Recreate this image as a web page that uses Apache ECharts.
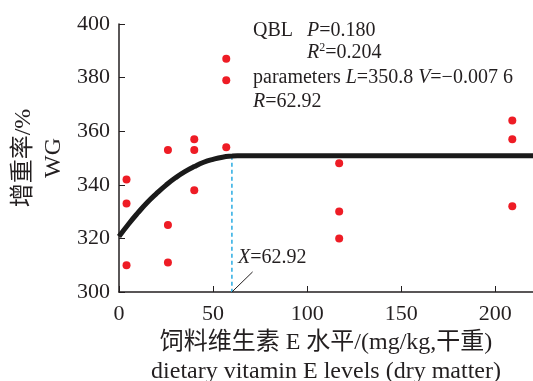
<!DOCTYPE html>
<html>
<head>
<meta charset="utf-8">
<script src="https://cdn.jsdelivr.net/npm/echarts@6/dist/echarts.min.js"></script>
<style>
  html, body { margin: 0; padding: 0; background: #fff; }
  #chart { width: 533px; height: 381px; }
</style>
</head>
<body>
<div id="chart"></div>
<script>
// observed WG per dietary vitamin E level (3 replicates each)
const levels = [4, 26, 40, 57, 117, 209]
const wgRep1 = [342, 353, 357, 387, 348, 364]
const wgRep2 = [333, 325, 353, 379, 330, 357]
const wgRep3 = [310, 311, 338, 354, 320, 332]

// QBL fitted curve
const curveX = [0, 5, 10, 15, 20, 25, 30, 35, 40, 45, 50, 55, 60, 62.92, 220]
const curveY = [320.7, 325.3, 329.5, 333.4, 336.8, 339.9, 342.6, 344.9, 346.8, 348.4, 349.5, 350.3, 350.7, 350.8, 350.8]

// breakpoint marker
const breakX = [60, 60]
const breakY = [350.8, 300]

const yTicks = [300, 320, 340, 360, 380, 400]
const xTicks = [0, 50, 100, 150, 200]

const FONT = '"Liberation Serif", "Noto Sans CJK SC", serif'
const TXT = '#231f20'

const chart = echarts.init(document.getElementById('chart'))

const points = []
levels.forEach((x, i) => {
  points.push([x, wgRep1[i]], [x, wgRep2[i]], [x, wgRep3[i]])
})

const txt = (size, extra) => Object.assign({ fontFamily: FONT, fontSize: size, color: TXT }, extra || {})

// rich styles for the annotation block
const rich = {
  n: { fontFamily: FONT, fontSize: 20, fill: TXT },
  i: { fontFamily: FONT, fontSize: 20, fill: TXT, fontStyle: 'italic' },
  s: { fontFamily: FONT, fontSize: 12, fill: TXT, verticalAlign: 'top', padding: [0, 0, 9, 0] }
}
const note = (left, top, text) => ({ type: 'text', left, top, style: { text, rich } })

const option = {
  animation: false,
  backgroundColor: '#fff',
  textStyle: { fontFamily: FONT },
  grid: { left: 119, right: 0, top: 24, bottom: 89, containLabel: false, outerBoundsMode: 'none' },
  xAxis: {
    type: 'value',
    min: xTicks[0],
    max: 220,
    interval: 50,
    name: '饲料维生素 E 水平/(mg/kg,干重)\ndietary vitamin E levels (dry matter)',
    nameLocation: 'middle',
    nameGap: 36,
    nameMoveOverlap: false,
    nameTextStyle: txt(24, { lineHeight: 29, verticalAlign: 'top' }),
    axisLine: { lineStyle: { color: TXT, width: 1.5 } },
    axisTick: { inside: true, length: 6, lineStyle: { color: TXT } },
    axisLabel: txt(22, { margin: 11, showMaxLabel: false }),
    splitLine: { show: false }
  },
  yAxis: {
    type: 'value',
    min: yTicks[0],
    max: yTicks[yTicks.length - 1],
    interval: 20,
    name: '增重率/%\nWG',
    nameLocation: 'middle',
    nameGap: 50,
    nameMoveOverlap: false,
    nameRotate: 90,
    nameTextStyle: txt(24, { lineHeight: 30 }),
    axisLine: { show: true, lineStyle: { color: TXT, width: 1.5 } },
    axisTick: { show: true, inside: true, length: 6, lineStyle: { color: TXT } },
    axisLabel: txt(22, { margin: 9 }),
    splitLine: { show: false }
  },
  series: [
    {
      type: 'line',
      data: curveX.map((x, i) => [x, curveY[i]]),
      smooth: true,
      showSymbol: false,
      lineStyle: { color: '#1a1a1a', width: 5 },
      z: 2
    },
    {
      type: 'line',
      data: breakX.map((x, i) => [x, breakY[i]]),
      showSymbol: false,
      lineStyle: { color: '#29abe2', width: 1.5, type: [4, 3] },
      z: 1,
      markLine: {
        silent: true,
        symbol: 'none',
        label: { show: false },
        lineStyle: { color: '#231f20', width: 1, type: 'solid' },
        data: [[{ coord: [60, 300] }, { coord: [71, 307.5] }]]
      }
    },
    {
      type: 'scatter',
      data: points,
      symbolSize: 8,
      itemStyle: { color: '#ee1c25', opacity: 1 },
      z: 3
    }
  ],
  graphic: [
    note(253, 21, '{n|QBL}'),
    note(307, 21, '{i|P}{n|=0.180}'),
    note(307, 42, '{i|R}{s|2}{n|=0.204}'),
    note(253, 68, '{n|parameters }{i|L}{n|=350.8 }{i|V}{n|=\u22120.007 6}'),
    note(253, 92, '{i|R}{n|=62.92}'),
    note(238, 248, '{i|X}{n|=62.92}')
  ]
}

chart.setOption(option)
</script>
</body>
</html>
